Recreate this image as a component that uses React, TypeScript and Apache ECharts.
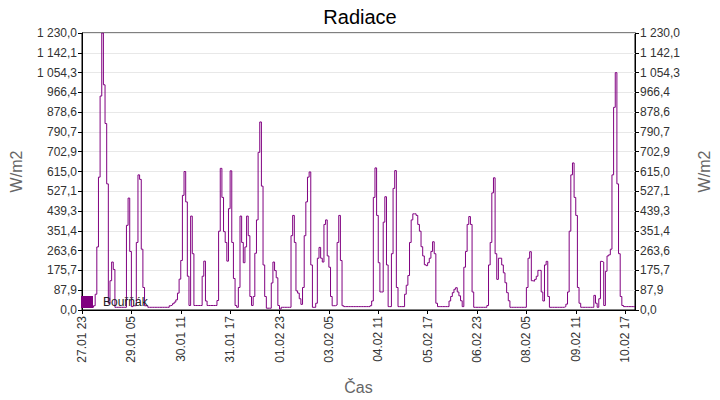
import React, { useEffect, useRef } from "react";
import * as echarts from "echarts";

// X-axis tick labels (every 30th hourly sample)
const tickLabels = [
  "27.01 23", "29.01 05", "30.01 11", "31.01 17", "01.02 23", "03.02 05",
  "04.02 11", "05.02 17", "06.02 23", "08.02 05", "09.02 11", "10.02 17",
];
const labelStep = 30;
const seriesName = "Bouřňák";
const titleText = "Radiace";
const yName = "W/m2";
const xName = "Čas";
const yMax = 1230;
const ySteps = 14;

// Hourly radiation values (W/m2)
const radiation = [
  12, 12, 12, 12, 12, 12, 12, 19, 70, 280,
  590, 950, 1230, 1000, 828, 560, 30, 130, 213, 180,
  12, 12, 12, 12, 12, 12, 12, 376, 497, 260,
  15, 19, 19, 300, 600, 580, 270, 100, 19, 19,
  12, 12, 12, 12, 12, 12, 12, 12, 12, 12,
  12, 12, 12, 19, 22, 28, 35, 45, 75, 137,
  220, 509, 615, 480, 150, 20, 417, 250, 20, 20,
  20, 20, 20, 150, 217, 40, 20, 20, 20, 20,
  20, 20, 42, 350, 629, 500, 348, 300, 217, 450,
  618, 300, 140, 20, 12, 100, 417, 300, 210, 280,
  417, 330, 60, 20, 60, 252, 400, 700, 835, 550,
  200, 60, 8, 8, 8, 120, 213, 175, 143, 20,
  4, 12, 12, 12, 12, 12, 12, 330, 420, 300,
  85, 75, 50, 25, 100, 330, 480, 590, 613, 200,
  12, 12, 30, 230, 278, 230, 213, 380, 400, 240,
  190, 60, 19, 19, 22, 300, 420, 220, 19, 15,
  15, 15, 15, 15, 15, 15, 15, 15, 15, 15,
  15, 15, 15, 15, 15, 19, 40, 500, 631, 420,
  210, 80, 80, 390, 503, 200, 15, 15, 250, 540,
  619, 100, 15, 15, 15, 15, 70, 110, 153, 300,
  400, 427, 427, 420, 380, 350, 281, 240, 201, 197,
  210, 230, 260, 303, 250, 30, 15, 15, 15, 15,
  15, 15, 15, 40, 60, 77, 92, 99, 80, 63,
  41, 15, 190, 260, 380, 415, 380, 80, 12, 12,
  12, 12, 12, 12, 12, 12, 20, 200, 300, 520,
  587, 250, 136, 230, 230, 200, 165, 121, 77, 41,
  12, 12, 12, 12, 12, 12, 12, 12, 12, 12,
  100, 230, 259, 130, 128, 136, 150, 176, 176, 80,
  40, 200, 216, 60, 12, 12, 12, 12, 12, 12,
  12, 12, 12, 15, 26, 80, 350, 600, 653, 500,
  420, 100, 30, 12, 12, 12, 12, 12, 12, 12,
  12, 65, 30, 12, 50, 216, 213, 20, 172, 240,
  245, 270, 600, 900, 1054, 560, 250, 60, 20, 15,
  15, 15, 15, 15, 15, 15, 15,
];

const FONT = "'Liberation Sans', Arial, sans-serif";

function fmtCz(v: number): string {
  const s = Math.abs(v).toFixed(1);
  const [ip, dp] = s.split(".");
  const grouped = ip.replace(/\B(?=(\d{3})+(?!\d))/g, " ");
  return (v < 0 ? "-" : "") + grouped + "," + dp;
}

export default function App() {
  const ref = useRef<HTMLDivElement>(null);
  useEffect(() => {
    if (!ref.current) return;
    const chart = echarts.init(ref.current, null, { renderer: "svg" });
    const categories = radiation.map((_, i) => String(i));
    const showTick = (index: number) => index % labelStep === 0;
    const yAxisCommon = {
      type: "value" as const,
      min: 0,
      max: yMax,
      interval: yMax / ySteps,
      name: yName,
      nameLocation: "middle" as const,
      nameTextStyle: { fontSize: 16, color: "#666", fontFamily: FONT },
      axisLine: { show: true, lineStyle: { color: "#000", width: 1 } },
      axisTick: { show: true, length: 4, lineStyle: { color: "#000" } },
      axisLabel: {
        fontSize: 12,
        color: "#333",
        fontFamily: FONT,
        margin: 5,
        formatter: (v: number) => fmtCz(v),
      },
    };
    chart.setOption({
      animation: false,
      backgroundColor: "#fff",
      title: {
        text: titleText,
        left: "center",
        top: 2,
        textStyle: { fontSize: 20, fontWeight: "normal", color: "#000", fontFamily: FONT },
      },
      grid: {
        left: 76,
        right: 76,
        top: 33,
        bottom: 86,
        show: true,
        borderColor: "#000",
        borderWidth: 1,
        backgroundColor: "transparent",
      },
      legend: {
        left: 76,
        top: 291,
        icon: "rect",
        itemWidth: 12,
        itemHeight: 12,
        textStyle: { fontSize: 12, color: "#222", fontFamily: FONT, padding: [0, 0, 0, 5] },
        data: [seriesName],
      },
      xAxis: {
        type: "category",
        data: categories,
        boundaryGap: false,
        name: xName,
        nameLocation: "middle",
        nameGap: 69,
        nameTextStyle: { fontSize: 16, color: "#666", fontFamily: FONT },
        axisLine: { lineStyle: { color: "#000", width: 1 } },
        axisTick: { show: true, length: 4, interval: showTick, lineStyle: { color: "#000" } },
        axisLabel: {
          interval: showTick,
          rotate: 90,
          fontSize: 12,
          color: "#333",
          fontFamily: FONT,
          margin: 6,
          formatter: (_v: string, index: number) => tickLabels[Math.round(index / labelStep)] ?? "",
        },
        splitLine: { show: false },
      },
      yAxis: [
        {
          ...yAxisCommon,
          position: "left",
          nameGap: 58,
          splitLine: { show: true, lineStyle: { color: "#e8e8e8", width: 1 } },
        },
        {
          ...yAxisCommon,
          position: "right",
          nameGap: 61,
          splitLine: { show: false },
        },
      ],
      series: [
        {
          name: seriesName,
          type: "line",
          step: "end",
          data: radiation,
          showSymbol: false,
          symbol: "none",
          color: "#800080",
          lineStyle: { color: "#800080", width: 1 },
        },
      ],
    });
    return () => chart.dispose();
  }, []);
  return (
    <div
      ref={ref}
      style={{ position: "fixed", left: 0, top: 0, width: 720, height: 400, background: "#fff" }}
    />
  );
}
